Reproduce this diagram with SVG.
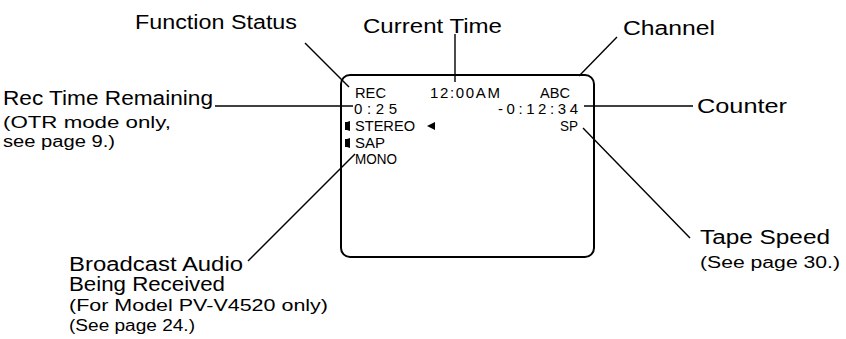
<svg xmlns="http://www.w3.org/2000/svg" width="846" height="339" viewBox="0 0 846 339">
<style>
text{font-family:"Liberation Sans",Arial,sans-serif;fill:#000}
.lbl{font-size:20px}
.sub{font-size:16px}
.scr{font-size:15px}
.ln{stroke:#000;stroke-width:1.4;fill:none}
.box{stroke:#000;stroke-width:2;fill:#fff}
</style>
<rect width="846" height="339" fill="#fff"/>
<g id="screen">
<rect class="box" x="341" y="75" width="253" height="182" rx="9"/>
<text class="scr" x="355" y="98" textLength="31" lengthAdjust="spacingAndGlyphs">REC</text>
<text class="scr" x="430" y="98" textLength="70" lengthAdjust="spacing">12:00AM</text>
<text class="scr" x="540" y="98" textLength="30" lengthAdjust="spacingAndGlyphs">ABC</text>
<text class="scr" x="354" y="114" textLength="43" lengthAdjust="spacing">0:25</text>
<text class="scr" x="498" y="114" textLength="80" lengthAdjust="spacing">-0:12:34</text>
<path d="M345 122 h2 l3 -1 v10 l-3 -1 h-2 z" fill="#000"/>
<text class="scr" x="355" y="131" textLength="60" lengthAdjust="spacingAndGlyphs">STEREO</text>
<polygon points="427,126 435,122 435,130" fill="#000"/>
<text class="scr" x="560" y="131" textLength="18" lengthAdjust="spacingAndGlyphs">SP</text>
<path d="M345 139 h2 l3 -1 v10 l-3 -1 h-2 z" fill="#000"/>
<text class="scr" x="355" y="148" textLength="30" lengthAdjust="spacingAndGlyphs">SAP</text>
<text class="scr" x="355" y="164" textLength="42" lengthAdjust="spacingAndGlyphs">MONO</text>
</g>
<g id="function-status"><text class="lbl" x="135" y="29" textLength="162" lengthAdjust="spacingAndGlyphs">Function Status</text></g>
<g id="current-time"><text class="lbl" x="363" y="33" textLength="139" lengthAdjust="spacingAndGlyphs">Current Time</text></g>
<g id="channel"><text class="lbl" x="623" y="35" textLength="92" lengthAdjust="spacingAndGlyphs">Channel</text></g>
<g id="counter"><text class="lbl" x="697" y="113" textLength="90" lengthAdjust="spacingAndGlyphs">Counter</text></g>
<g id="rec-time">
<text class="lbl" x="3" y="105" textLength="210" lengthAdjust="spacingAndGlyphs">Rec Time Remaining</text>
<text class="sub" x="3" y="128" textLength="168" lengthAdjust="spacingAndGlyphs">(OTR mode only,</text>
<text class="sub" x="3" y="147" textLength="112" lengthAdjust="spacingAndGlyphs">see page 9.)</text>
</g>
<g id="broadcast-audio">
<text class="lbl" x="69" y="271" textLength="174" lengthAdjust="spacingAndGlyphs">Broadcast Audio</text>
<text class="lbl" x="69" y="291" textLength="156" lengthAdjust="spacingAndGlyphs">Being Received</text>
<text class="sub" x="69" y="311" textLength="259" lengthAdjust="spacingAndGlyphs">(For Model PV-V4520 only)</text>
<text class="sub" x="69" y="331" textLength="126" lengthAdjust="spacingAndGlyphs">(See page 24.)</text>
</g>
<g id="tape-speed">
<text class="lbl" x="700" y="244" textLength="130" lengthAdjust="spacingAndGlyphs">Tape Speed</text>
<text class="sub" x="700" y="268" textLength="140" lengthAdjust="spacingAndGlyphs">(See page 30.)</text>
</g>
<g id="connectors">
<line class="ln" x1="305" y1="43" x2="349" y2="87"/>
<line class="ln" x1="455" y1="34" x2="455" y2="82"/>
<line class="ln" x1="617" y1="37" x2="579" y2="76"/>
<line class="ln" x1="584" y1="106" x2="693" y2="106"/>
<line class="ln" x1="583" y1="128" x2="690" y2="238"/>
<line class="ln" x1="215" y1="106" x2="353" y2="106"/>
<line class="ln" x1="355" y1="154" x2="248" y2="261"/>
</g>
</svg>
